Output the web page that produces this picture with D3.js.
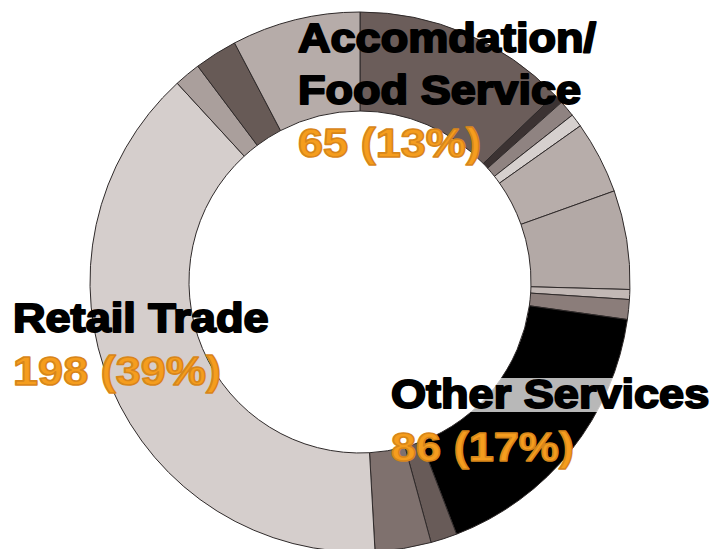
<!DOCTYPE html>
<html>
<head>
<meta charset="utf-8">
<script src="https://cdn.jsdelivr.net/npm/d3@7"></script>
<style>
  body { margin: 0; background: #fff; }
  svg { display: block; }
</style>
</head>
<body>
<script>
// industries, clockwise from 12 o'clock
const categories = [
  "Accomdation/Food Service", "Construction", "Manufacturing", "Wholesale Trade",
  "Transportation", "Information", "Finance/Insurance", "Real Estate",
  "Other Services", "Professional Services", "Admin Support", "Retail Trade",
  "Educational Services", "Health Care", "Arts/Entertainment"
];
const counts = [65, 3, 5, 4, 22, 30, 3, 6, 86, 8, 17, 198, 8, 13, 39];
const colors = [
  "#6b5d5a", "#3b3232", "#8f8381", "#d6d0ce", "#b7adaa", "#b3a9a6", "#c2b8b5",
  "#8b7d7a", "#000000", "#685b58", "#7f716e", "#d5cecc", "#aa9f9c", "#675a56", "#b6aca9"
];
// labelled slices: [category, x, y of first line]
const labels = [
  { name: "Retail Trade", lines: ["Retail Trade"], x: 13, y: 332 },
  { name: "Accomdation/Food Service", lines: ["Accomdation/", "Food Service"], x: 298, y: 52 },
  { name: "Other Services", lines: ["Other Services"], x: 391, y: 408, box: true }
];

const width = 710;
const height = 549;
const cx = 360, cy = 282;
const sx = 1.1; // stretch labels a bit, the original face is wider

const svg = d3.select("body").append("svg")
  .attr("width", width)
  .attr("height", height);

const data = categories.map((c, i) => ({ name: c, value: counts[i], color: colors[i] }));
const total = d3.sum(counts);

const pie = d3.pie().sort(null).value(d => d.value);
const arc = d3.arc().innerRadius(171).outerRadius(270);

const g = svg.append("g").attr("transform", `translate(${cx},${cy})`);
g.selectAll("path")
  .data(pie(data))
  .enter()
  .append("path")
  .attr("d", arc)
  .attr("fill", d => d.data.color)
  .attr("stroke", "#2f2a2a")
  .attr("stroke-width", 1);

const fontFamily = "'Liberation Sans', Arial, sans-serif";
const lineH = 52;

labels.forEach(l => {
  const d = data.find(e => e.name === l.name);
  const lg = svg.append("g");
  const bg = lg.append("rect");
  const tg = lg.append("g").attr("transform", `translate(${l.x},${l.y}) scale(${sx},1)`);
  const t = tg.append("text")
    .attr("font-family", fontFamily)
    .attr("font-weight", "bold")
    .attr("font-size", 41)
    .attr("fill", "#000")
    .attr("stroke", "#000")
    .attr("stroke-width", 2)
    .attr("stroke-linejoin", "round");
  l.lines.forEach((s, i) => {
    t.append("tspan").attr("x", 0).attr("y", i * lineH).text(s);
  });
  if (l.box) {
    const bb = t.node().getBBox();
    bg.attr("x", l.x - 4).attr("y", l.y - 30)
      .attr("width", bb.width * sx + 8).attr("height", 34)
      .attr("fill", "#fff").attr("fill-opacity", 0.72);
  } else {
    bg.remove();
  }
  tg.append("text")
    .attr("x", 0)
    .attr("y", l.lines.length * lineH + 1)
    .attr("font-family", fontFamily)
    .attr("font-weight", "bold")
    .attr("font-size", 41)
    .attr("fill", "#f59d1e")
    .attr("stroke", "#d8861a")
    .attr("stroke-width", 1.6)
    .attr("stroke-linejoin", "round")
    .text(`${d.value} (${Math.round(d.value / total * 100)}%)`);
});
</script>
</body>
</html>
